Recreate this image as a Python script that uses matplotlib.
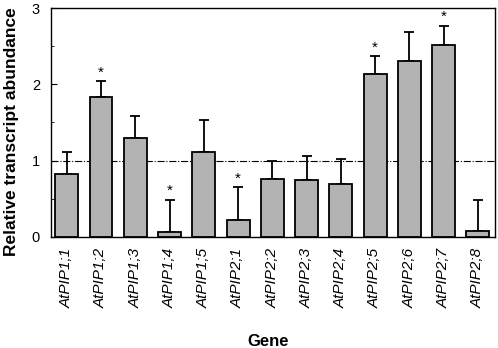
import matplotlib.pyplot as plt
import numpy as np

plt.rcParams['font.family'] = ['Liberation Sans', 'DejaVu Sans']

genes = ['AtPIP1;1', 'AtPIP1;2', 'AtPIP1;3', 'AtPIP1;4', 'AtPIP1;5', 'AtPIP2;1', 'AtPIP2;2',
         'AtPIP2;3', 'AtPIP2;4', 'AtPIP2;5', 'AtPIP2;6', 'AtPIP2;7', 'AtPIP2;8']
values = [0.83, 1.84, 1.30, 0.06, 1.12, 0.22, 0.76, 0.75, 0.69, 2.14, 2.31, 2.51, 0.08]
errors = [0.29, 0.20, 0.29, 0.43, 0.41, 0.43, 0.24, 0.31, 0.33, 0.23, 0.37, 0.26, 0.41]
significant = [False, True, False, True, False, True, False, False, False, True, False, True, False]

fig = plt.figure(figsize=(4.98, 3.48), dpi=100)
ax = fig.add_axes([0.1024, 0.319, 0.994 - 0.1024, 0.977 - 0.319])

x = np.arange(len(genes))
ax.bar(x, values, width=0.67, color='#b3b3b3', edgecolor='black', linewidth=1.3, zorder=2)
ax.errorbar(x, values, yerr=[np.zeros(len(errors)), errors], fmt='none', ecolor='black',
            elinewidth=1.3, capsize=3.3, capthick=1.3, zorder=1)
ax.axhline(1, color='black', linestyle='-.', linewidth=0.8, zorder=0)

for i in range(len(genes)):
    if significant[i]:
        ax.annotate('*', (x[i], values[i] + errors[i]), xytext=(0, 1), textcoords='offset points',
                    ha='center', va='bottom', fontsize=11)

ax.set_xlim(-0.46, 12.5)
ax.set_ylim(0, 3)
ax.set_yticks([0, 1, 2, 3])
ax.set_yticks([0.5, 1.5, 2.5], minor=True)
ax.tick_params(axis='y', direction='in', length=4, labelsize=10.5, pad=8, right=False)
ax.tick_params(axis='y', which='minor', direction='in', length=2.5)
ax.set_xticks(x)
ax.set_xticklabels(genes, rotation=90, style='italic', fontsize=11)
ax.tick_params(axis='x', length=0, pad=8)
for s in ax.spines.values():
    s.set_linewidth(1.0)

ax.set_ylabel('Relative transcript abundance', fontsize=12.5, fontweight='bold', va='center')
ax.yaxis.set_label_coords(-0.088, 0.46)
ax.set_xlabel('Gene', fontsize=12, fontweight='bold', va='center')
ax.xaxis.set_label_coords(0.49, -0.455)

fig.savefig('out.png', dpi=100)
